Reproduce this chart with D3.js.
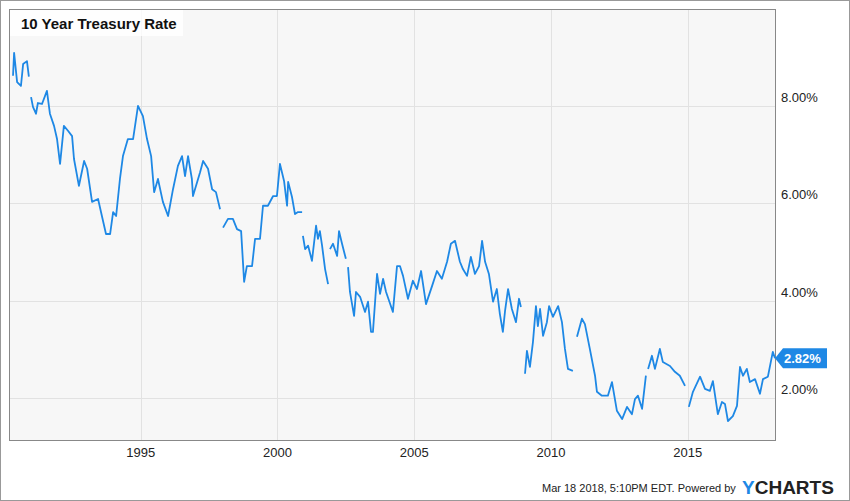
<!DOCTYPE html>
<html>
<head>
<meta charset="utf-8">
<script src="https://cdn.jsdelivr.net/npm/d3@7"></script>
<style>
  body { margin: 0; background: #fff; font-family: Arial, "Liberation Sans", sans-serif; }
</style>
</head>
<body>
<div id="chart"></div>
<script>
// data (null = gap in the series)
var dates = [1990.33,1990.37,1990.48,1990.62,1990.70,1990.84,1990.91,1990.95,
  1990.99,1991.06,1991.17,1991.24,1991.39,1991.57,1991.68,1991.83,1991.94,1992.05,1992.19,1992.34,1992.49,1992.56,1992.74,1992.93,
  1993.04,1993.22,1993.44,1993.58,1993.73,1993.88,1993.99,1994.10,1994.24,1994.35,1994.53,1994.72,1994.90,1995.08,1995.23,1995.38,
  1995.49,1995.63,1995.81,1996.00,1996.18,1996.36,1996.51,1996.62,1996.73,1996.87,1996.91,1997.17,1997.28,1997.46,1997.61,1997.75,1997.90,1997.95,
  1998.01,1998.19,1998.37,1998.52,1998.67,1998.78,1998.88,1999.07,1999.18,1999.36,1999.47,1999.65,1999.84,1999.98,2000.09,2000.24,
  2000.35,2000.39,2000.53,2000.64,2000.75,2000.90,2000.92,
  2000.93,2001.01,2001.12,2001.26,2001.41,2001.48,2001.55,2001.63,2001.74,2001.85,2001.88,
  2001.92,2002.03,2002.18,2002.25,2002.36,2002.50,2002.54,
  2002.58,2002.65,2002.80,2002.87,2003.02,2003.20,2003.31,2003.42,2003.49,2003.64,2003.75,2003.86,2003.97,2004.08,2004.22,2004.37,
  2004.48,2004.59,2004.77,2004.95,2005.10,2005.25,2005.43,2005.65,2005.83,2006.01,2006.20,2006.34,2006.49,2006.67,2006.78,2006.93,
  2007.07,2007.22,2007.37,2007.48,2007.59,2007.73,2007.88,2008.02,2008.13,2008.24,2008.32,2008.43,2008.57,2008.72,2008.83,2008.90,2008.97,
  2009.05,2009.12,2009.23,2009.34,2009.45,2009.52,2009.60,2009.71,2009.85,2009.93,2010.07,2010.26,2010.40,2010.51,2010.62,2010.80,2010.88,
  2010.95,2011.13,2011.24,2011.42,2011.61,2011.68,2011.86,2012.08,2012.23,2012.41,2012.60,2012.78,2012.96,2013.07,2013.18,2013.33,2013.47,2013.51,
  2013.55,2013.69,2013.80,2013.98,2014.09,2014.35,2014.53,2014.71,2014.90,2014.97,
  2015.04,2015.19,2015.45,2015.63,2015.81,2015.92,2016.10,2016.25,2016.36,2016.47,2016.65,2016.80,2016.91,2017.02,2017.16,2017.27,
  2017.46,2017.64,2017.75,2017.93,2018.11,2018.19];
var rates = [8.62,9.09,8.49,8.41,8.86,8.92,8.60,null,
  8.18,7.98,7.84,8.06,8.04,8.31,7.84,7.59,7.32,6.81,7.59,7.49,7.38,6.91,6.36,6.87,
  6.71,6.03,6.09,5.74,5.37,5.37,5.82,5.74,6.50,6.97,7.32,7.32,8.00,7.79,7.32,6.97,
  6.23,6.50,6.03,5.74,6.29,6.77,6.97,6.56,6.97,6.50,6.15,6.64,6.87,6.71,6.29,6.23,5.88,null,
  5.50,5.68,5.68,5.47,5.43,4.39,4.71,4.71,5.27,5.27,5.95,5.95,6.15,6.15,6.81,6.46,
  5.95,6.44,6.13,5.78,5.82,5.82,null,
  5.33,5.06,5.13,4.82,5.54,5.27,5.43,5.13,4.65,4.34,null,
  5.06,5.17,4.92,5.43,5.17,4.86,null,
  4.69,4.18,3.69,4.18,4.08,3.77,3.98,3.36,3.36,4.55,4.14,4.45,4.18,4.00,3.77,4.71,
  4.71,4.51,4.04,4.41,4.24,4.61,3.93,4.30,4.61,4.45,4.80,5.17,5.23,4.80,4.65,4.51,
  4.90,4.55,4.71,5.23,4.80,4.55,3.98,4.24,3.73,3.36,3.79,4.24,3.83,3.56,4.04,3.87,null,
  2.50,2.97,2.64,3.15,3.89,3.48,3.83,3.28,3.56,3.89,3.67,3.89,3.56,3.01,2.60,2.56,null,
  3.26,3.63,3.52,3.01,2.46,2.13,2.05,2.05,2.33,1.74,1.57,1.82,1.67,1.98,2.05,1.78,2.46,null,
  2.60,2.87,2.60,3.01,2.74,2.66,2.54,2.46,2.25,null,
  1.82,2.13,2.44,2.19,2.15,2.35,1.67,1.92,1.88,1.53,1.63,1.84,2.64,2.46,2.60,2.33,
  2.39,2.09,2.39,2.44,2.95,2.82];
var yearTicks = [1995, 2000, 2005, 2010, 2015];
var rateTicks = [2, 4, 6, 8];
var lastValue = "2.82%";

var W = 850, H = 501;
var plot = {left: 10, top: 10, right: 775, bottom: 440};

var svg = d3.select("#chart").append("svg")
    .attr("width", W).attr("height", H);

// outer frame
svg.append("rect").attr("x", 0.5).attr("y", 0.5)
    .attr("width", W - 1).attr("height", H - 1)
    .attr("fill", "#fff").attr("stroke", "#999");

var x = d3.scaleLinear().domain([1990.22, 2018.19]).range([plot.left, plot.right]);
var y = d3.scaleLinear().domain([1.14, 9.97]).range([plot.bottom, plot.top]);

svg.append("rect")
    .attr("x", plot.left).attr("y", plot.top)
    .attr("width", plot.right - plot.left).attr("height", plot.bottom - plot.top)
    .attr("fill", "#f7f7f7");

// grid
svg.selectAll(".vgrid").data(yearTicks).enter().append("line")
    .attr("x1", function(d) { return Math.round(x(d)) + 0.5; })
    .attr("x2", function(d) { return Math.round(x(d)) + 0.5; })
    .attr("y1", plot.top).attr("y2", plot.bottom)
    .attr("stroke", "#e2e2e2");
svg.selectAll(".hgrid").data(rateTicks).enter().append("line")
    .attr("y1", function(d) { return Math.round(y(d)) + 0.5; })
    .attr("y2", function(d) { return Math.round(y(d)) + 0.5; })
    .attr("x1", plot.left).attr("x2", plot.right)
    .attr("stroke", "#e2e2e2");

// border of plot
svg.append("rect")
    .attr("x", plot.left - 0.5).attr("y", plot.top - 0.5)
    .attr("width", plot.right - plot.left + 1).attr("height", plot.bottom - plot.top + 1)
    .attr("fill", "none").attr("stroke", "#888");

// axis labels
svg.selectAll(".xl").data(yearTicks).enter().append("text")
    .attr("x", function(d) { return x(d); }).attr("y", 457)
    .attr("text-anchor", "middle").attr("font-size", 13).attr("fill", "#222")
    .text(function(d) { return d; });
svg.selectAll(".yl").data(rateTicks).enter().append("text")
    .attr("x", 781).attr("y", function(d) { return y(d) - 4; })
    .attr("font-size", 13).attr("fill", "#222")
    .text(function(d) { return d3.format(".2f")(d) + "%"; });

// line
var pts = dates.map(function(d, i) { return [d, rates[i]]; });
var line = d3.line()
    .defined(function(d) { return d[1] !== null; })
    .x(function(d) { return x(d[0]); })
    .y(function(d) { return y(d[1]); });
svg.append("path").datum(pts)
    .attr("d", line)
    .attr("fill", "none").attr("stroke", "#1e88e5")
    .attr("stroke-width", 1.8).attr("stroke-linejoin", "round");

// title
svg.append("rect").attr("x", plot.left).attr("y", plot.top)
    .attr("width", 173).attr("height", 26).attr("fill", "#fff").attr("opacity", 0.8);
svg.append("text").attr("x", 21).attr("y", 29)
    .attr("font-size", 15).attr("font-weight", "bold").attr("fill", "#111")
    .text("10 Year Treasury Rate");

// last value tag
var ty = y(rates[rates.length - 1]);
svg.append("path")
    .attr("d", "M" + plot.right + "," + ty + "l8,-10h44v20h-44z")
    .attr("fill", "#1e88e5");
svg.append("text").attr("x", 784).attr("y", ty + 5)
    .attr("font-size", 13).attr("font-weight", "bold").attr("fill", "#fff")
    .text(lastValue);

// footer
svg.append("text").attr("x", 542).attr("y", 492)
    .attr("font-size", 11).attr("fill", "#222")
    .text("Mar 18 2018, 5:10PM EDT.  Powered by");
var logo = svg.append("text").attr("x", 742).attr("y", 494)
    .attr("font-size", 19).attr("font-weight", "bold");
logo.append("tspan").attr("fill", "#1e88e5").text("Y");
logo.append("tspan").attr("fill", "#222").text("CHARTS");
</script>
</body>
</html>
